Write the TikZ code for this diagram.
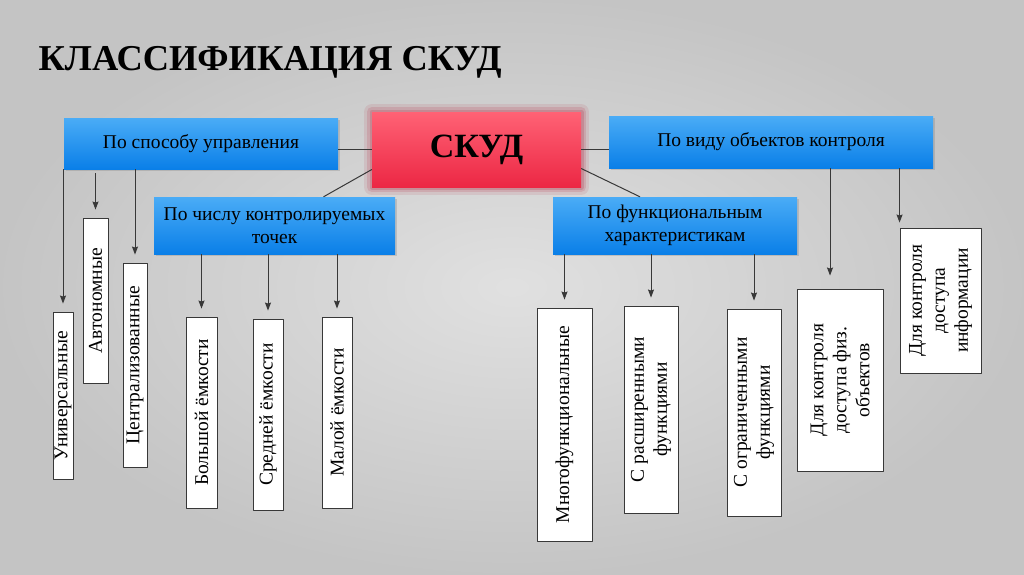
\documentclass[tikz,border=0pt]{standalone}
\usepackage{fontspec}
\setmainfont{Liberation Serif}
\usetikzlibrary{shadows,arrows.meta}
\definecolor{bluetop}{HTML}{4AACF6}
\definecolor{bluebot}{HTML}{0A7FE8}
\definecolor{redtop}{HTML}{FF6275}
\definecolor{redbot}{HTML}{EC2744}
\definecolor{glow}{HTML}{B83A50}
\definecolor{linegray}{HTML}{383838}
\begin{document}
\begin{tikzpicture}[x=1pt,y=-1pt,>={Stealth[length=8pt,width=6pt,inset=1pt]}, font=\fontsize{19.5}{23}\selectfont, line join=round,
	bluebox/.style={top color=bluetop, bottom color=bluebot, align=center, inner sep=0pt,
		drop shadow={opacity=.3,shadow xshift=1.5pt,shadow yshift=-2pt}},
	redbox/.style={top color=redtop, bottom color=redbot, inner sep=0pt,
		preaction={draw=glow, line width=16pt, opacity=.12},
		preaction={draw=glow, line width=10pt, opacity=.18},
		preaction={draw=glow, line width=5pt, opacity=.25}},
	vbox/.style={draw=linegray, line width=.9pt, fill=white, rotate=90, align=center, inner sep=0pt},
	ln/.style={draw=linegray, line width=1pt},
	arr/.style={ln,->,shorten >=8pt}]
	\useasboundingbox (0,0) rectangle (1024,574);
	\shade[inner color=white!88!black, outer color=white!77!black] (0,0) rectangle (1024,574);
	% заголовок
	\node[anchor=base west, font=\bfseries\fontsize{36.4}{40}\selectfont] (title) at (35,70) {КЛАССИФИКАЦИЯ СКУД};
	% верхний уровень
	\node[redbox, minimum width=209pt, minimum height=75pt, font=\bfseries\fontsize{34}{36}\selectfont] (skud) at (476.5,149.5) {СКУД};
	\node[bluebox, minimum width=274pt, minimum height=51pt] (upr) at (201,143.5) {По способу управления};
	\node[bluebox, minimum width=324pt, minimum height=52pt] (vid) at (771,142) {По виду объектов контроля};
	\node[bluebox, minimum width=241pt, minimum height=57pt] (chislo) at (274.5,225.5) {По числу контролируемых\\точек};
	\node[bluebox, minimum width=244pt, minimum height=57pt] (func) at (675,225.5) {По функциональным\\характеристикам};
	% нижний уровень
	\node[vbox, minimum width=167pt, minimum height=20pt] (univ) at (63,395.5) {Универсальные};
	\node[vbox, minimum width=165pt, minimum height=25pt] (avt) at (95.5,300.5) {Автономные};
	\node[vbox, minimum width=204pt, minimum height=24pt] (centr) at (135,365) {Централизованные};
	\node[vbox, minimum width=191pt, minimum height=31pt] (bol) at (201.5,412.5) {Большой ёмкости};
	\node[vbox, minimum width=191pt, minimum height=30pt] (sred) at (268,414.5) {Средней ёмкости};
	\node[vbox, minimum width=191pt, minimum height=30pt] (mal) at (337,412.5) {Малой ёмкости};
	\node[vbox, minimum width=233pt, minimum height=55pt] (mnogo) at (564.5,424.5) {Многофункциональные};
	\node[vbox, minimum width=207pt, minimum height=54pt] (rassh) at (651,409.5) {С расширенными\\функциями};
	\node[vbox, minimum width=207pt, minimum height=54pt] (ogr) at (754,412.5) {С ограниченными\\функциями};
	\node[vbox, minimum width=182pt, minimum height=86pt] (fiz) at (840,380) {Для контроля\\доступа физ.\\объектов};
	\node[vbox, minimum width=145pt, minimum height=81pt] (inf) at (940.5,300.5) {Для контроля\\доступа\\информации};
	% связи
	\draw[ln] (skud.west) -- (skud.west -| upr.east);
	\draw[ln] (skud.east) -- (skud.east -| vid.west);
	\draw[ln] ([yshift=-20pt]skud.west) -- ([xshift=49pt]chislo.north);
	\draw[ln] ([yshift=-19pt]skud.east) -- ([xshift=-35pt]func.north);
	\draw[arr] (upr.south -| univ.east) -- (univ.east);
	\draw[arr, shorten <=4pt] (upr.south -| avt.east) -- (avt.east);
	\draw[arr] (upr.south -| centr.east) -- (centr.east);
	\foreach \b in {bol,sred,mal} \draw[arr] (chislo.south -| \b.east) -- (\b.east);
	\foreach \b in {mnogo,rassh,ogr} \draw[arr] (func.south -| \b.east) -- (\b.east);
	\coordinate (fizin) at ([xshift=-10pt]fiz.east);
	\draw[arr, shorten >=13pt] (vid.south -| fizin) -- (fizin);
	\draw[arr, shorten >=5pt] (vid.south -| inf.north east) -- (inf.north east);
\end{tikzpicture}
\end{document}
